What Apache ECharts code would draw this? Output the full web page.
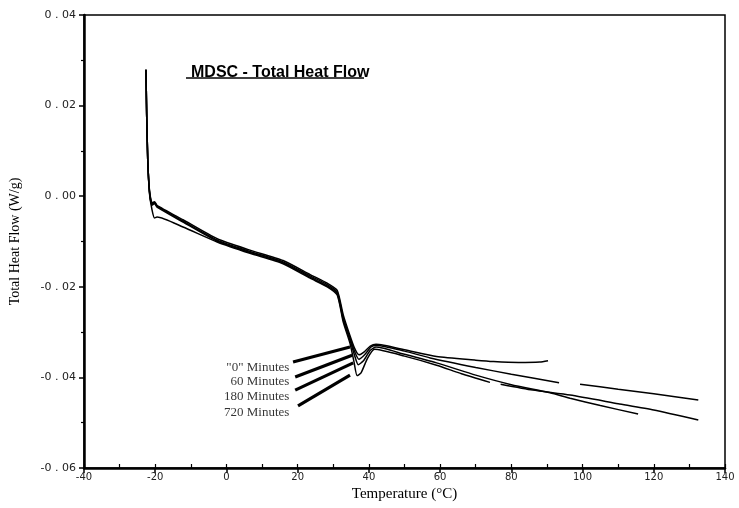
<!DOCTYPE html>
<html>
<head>
<meta charset="utf-8">
<script src="https://cdn.jsdelivr.net/npm/echarts@6/dist/echarts.min.js"></script>
<style>
  html, body { margin: 0; padding: 0; background: #fff; }
  #chart { width: 739px; height: 508px; }
</style>
</head>
<body>
<div id="chart"></div>
<script>
// temperature (°C) / total heat flow (W/g)
const curve0 = [
  [-22.6, 0.0279], [-22.4, 0.018], [-22.1, 0.008], [-21.6, 0.0012], [-20.9, -0.0015],
  [-20.2, -0.0012], [-19.5, -0.0020], [-12.2, -0.0052], [-2.6, -0.0094], [6.6, -0.0119],
  [15.9, -0.0142], [23.5, -0.0173], [28.3, -0.0192], [31.1, -0.0208], [32.8, -0.0262],
  [34.7, -0.0308], [36.0, -0.0336], [37.2, -0.0350], [38.6, -0.0344], [40.4, -0.0331],
  [42.0, -0.0327], [50, -0.0339], [59, -0.0354], [70, -0.0362], [75, -0.0365],
  [82, -0.0367], [88, -0.0366], [90.3, -0.0363]
];
const curve60 = [
  [-22.6, 0.0279], [-22.4, 0.018], [-22.1, 0.008], [-21.6, 0.0010], [-20.9, -0.0018],
  [-20.2, -0.0014], [-19.5, -0.0022], [-12.2, -0.0055], [-2.6, -0.0097], [6.6, -0.0122],
  [15.9, -0.0145], [23.5, -0.0176], [28.3, -0.0195], [31.1, -0.0212], [32.8, -0.0268],
  [34.7, -0.0313], [36.0, -0.0343], [37.2, -0.0360], [38.8, -0.0350], [40.6, -0.0333],
  [42.0, -0.0329], [50, -0.0342], [57.2, -0.0357], [70, -0.0378], [80, -0.0393],
  [93.4, -0.0412], [94, '-'], [99.3, -0.0415], [110, -0.0426], [120, -0.0436],
  [132.5, -0.0450]
];
const curve180 = [
  [-22.6, 0.0279], [-22.4, 0.018], [-22.1, 0.008], [-21.6, 0.0008], [-20.9, -0.0020],
  [-20.2, -0.0016], [-19.5, -0.0024], [-12.2, -0.0057], [-2.6, -0.0099], [6.6, -0.0124],
  [15.9, -0.0147], [23.5, -0.0179], [28.3, -0.0198], [31.1, -0.0215], [32.8, -0.0273],
  [34.7, -0.0318], [36.0, -0.0352], [37.0, -0.0372], [38.4, -0.0364], [40.4, -0.0340],
  [42.0, -0.0333], [50, -0.0349], [59, -0.0368], [70, -0.0395], [80, -0.0416],
  [90.9, -0.0434], [96.5, -0.0446], [105, -0.0462], [115.6, -0.0481]
];
const curve720 = [
  [-22.6, 0.0279], [-22.4, 0.018], [-22.1, 0.008], [-21.6, 0.0005], [-20.9, -0.0030],
  [-20.2, -0.0048], [-19.5, -0.0046], [-12.2, -0.0068], [-2.6, -0.0101], [6.6, -0.0126],
  [15.9, -0.0149], [23.5, -0.0181], [28.3, -0.0200], [31.1, -0.0218], [32.8, -0.0278],
  [34.7, -0.0325], [35.8, -0.0365], [36.7, -0.0396], [37.8, -0.0390], [39.6, -0.0358],
  [41.6, -0.0338], [50, -0.0353], [59, -0.0373], [66, -0.0392], [74, -0.0411],
  [75.5, '-'], [77, -0.0415], [86, -0.0428], [96.5, -0.0439], [110, -0.0458],
  [120, -0.0472], [132.5, -0.0494]
];

const curveNames = ['"0" Minutes', '60 Minutes', '180 Minutes', '720 Minutes'];
const curves = [curve0, curve60, curve180, curve720];
// label anchor (right edge of text) and leader line ends, in data units
const labelPoints = [[17.8, -0.0379], [17.8, -0.0410], [17.8, -0.0443], [17.8, -0.0478]];
const leaderStart = [[18.7, -0.0366], [19.3, -0.0399], [19.3, -0.0428], [20.1, -0.0463]];
const leaderEnd = [[34.7, -0.0333], [35.3, -0.0351], [35.6, -0.0368], [34.7, -0.0395]];

const xMin = -40, xMax = 140, xStep = 20;
const yMin = -0.06, yMax = 0.04, yStep = 0.02;

const chart = echarts.init(document.getElementById('chart'));

const series = [];
curves.forEach(function (c, i) {
  series.push({
    name: curveNames[i],
    type: 'line',
    data: c,
    showSymbol: false,
    smooth: 0.2,
    connectNulls: false,
    lineStyle: { color: '#000', width: 1.5 },
    z: 3
  });
});
leaderStart.forEach(function (s, i) {
  series.push({
    type: 'line',
    data: [s, leaderEnd[i]],
    showSymbol: false,
    silent: true,
    lineStyle: { color: '#000', width: 3.2 },
    z: 4
  });
});
series.push({
  type: 'scatter',
  data: labelPoints.map(function (p, i) { return { value: p, name: curveNames[i] }; }),
  symbolSize: 1,
  itemStyle: { color: 'rgba(0,0,0,0)' },
  silent: true,
  label: {
    show: true,
    position: 'left',
    distance: 0,
    formatter: function (p) { return p.name; },
    fontFamily: 'Liberation Serif',
    fontSize: 13,
    color: '#000'
  }
});

chart.setOption({
  backgroundColor: '#fff',
  animation: false,
  title: {
    text: 'MDSC - Total Heat Flow',
    left: 186,
    top: 60,
    textStyle: { fontFamily: 'Liberation Sans', fontWeight: 'bold', fontSize: 16, color: '#000' }
  },
  graphic: [{
    type: 'line',
    shape: { x1: 186, y1: 78, x2: 364, y2: 78 },
    style: { stroke: '#000', lineWidth: 1.5 }
  }],
  grid: {
    left: 84, right: 14, top: 15, bottom: 40,
    show: true, borderColor: '#000', borderWidth: 1.5
  },
  xAxis: [{
    type: 'value',
    min: xMin, max: xMax, interval: xStep,
    name: 'Temperature (°C)',
    nameLocation: 'middle',
    nameGap: 18,
    nameTextStyle: { fontFamily: 'Liberation Serif', fontSize: 15, color: '#000' },
    axisLine: { onZero: false, lineStyle: { color: '#000', width: 2.5 } },
    axisTick: { length: 5, lineStyle: { color: '#000', width: 1.5 } },
    axisLabel: {
      margin: 4,
      fontFamily: 'DejaVu Sans',
      fontSize: 10,
      color: '#222',
      formatter: function (v) { return String(v); }
    },
    splitLine: { show: false }
  }, {
    type: 'value',
    position: 'bottom',
    min: xMin, max: xMax, interval: xStep / 2,
    axisLine: { show: false, onZero: false },
    axisTick: { inside: true, length: 4, lineStyle: { color: '#000', width: 1.2 } },
    axisLabel: { show: false },
    splitLine: { show: false }
  }],
  yAxis: {
    type: 'value',
    min: yMin, max: yMax, interval: yStep,
    name: 'Total Heat Flow (W/g)',
    nameLocation: 'middle',
    nameGap: 62,
    nameTextStyle: { fontFamily: 'Liberation Serif', fontSize: 14, color: '#000' },
    axisLine: { show: true, onZero: false, lineStyle: { color: '#000', width: 2.5 } },
    axisTick: { length: 5, lineStyle: { color: '#000', width: 1.5 } },
    minorTick: { show: true, splitNumber: 2, length: 3, lineStyle: { color: '#000', width: 1.2 } },
    axisLabel: {
      margin: 8,
      fontFamily: 'DejaVu Sans',
      fontSize: 11,
      color: '#222',
      formatter: function (v) { return v.toFixed(2).replace('.', ' . '); }
    },
    splitLine: { show: false }
  },
  series: series
});

window.addEventListener('resize', function () {
  chart.resize();
});
</script>
</body>
</html>
